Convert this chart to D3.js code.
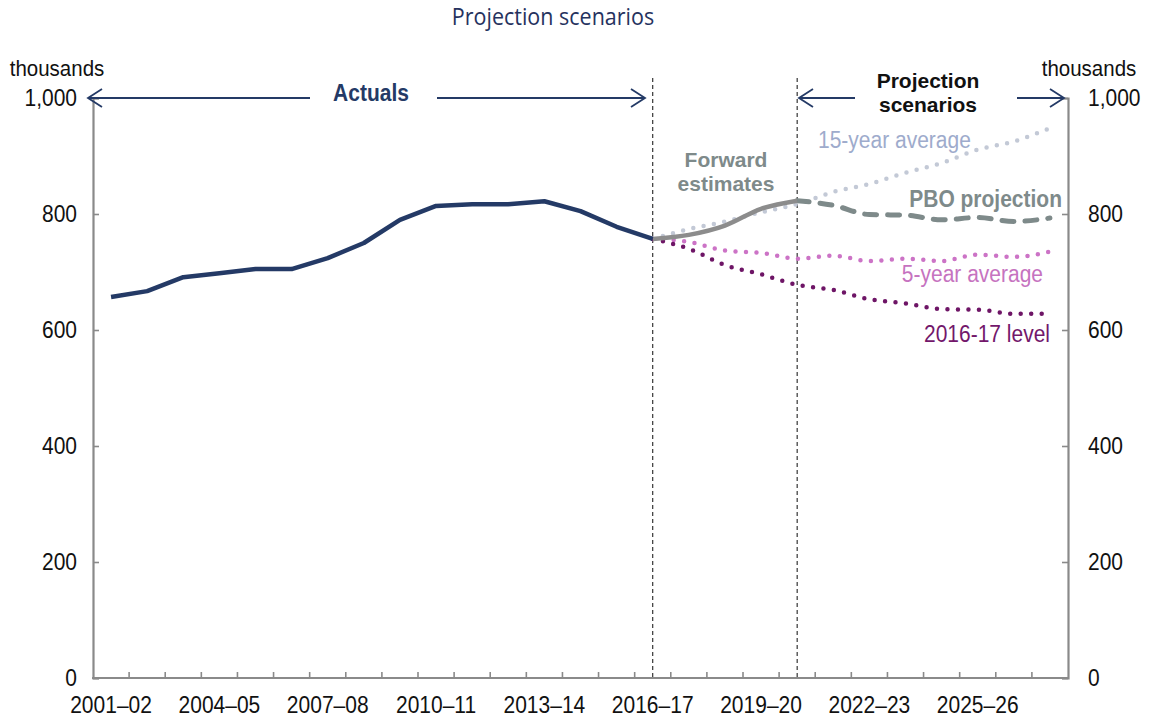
<!DOCTYPE html>
<html>
<head>
<meta charset="utf-8">
<script src="https://cdn.jsdelivr.net/npm/d3@7"></script>
<style>
  body { margin: 0; background: #fff; }
  svg { display: block; }
  text {
    font-family: "Liberation Sans", Arial, sans-serif;
    transform-box: fill-box;
    transform-origin: center;
    transform: scaleY(1.12);
  }
  text.flat { transform: none; }
</style>
</head>
<body>
<div id="chart"></div>
<script>
// financial years on the x axis
var years = ["2001–02", "2002–03", "2003–04", "2004–05", "2005–06", "2006–07", "2007–08",
  "2008–09", "2009–10", "2010–11", "2011–12", "2012–13", "2013–14", "2014–15", "2015–16",
  "2016–17", "2017–18", "2018–19", "2019–20", "2020–21", "2021–22", "2022–23", "2023–24",
  "2024–25", "2025–26", "2026–27", "2027–28"];
var yearLabels = ["2001–02", "2004–05", "2007–08", "2010–11", "2013–14", "2016–17", "2019–20", "2022–23", "2025–26"];
var yTicks = [0, 200, 400, 600, 800, 1000];

// thousands
var actuals = [657, 667, 691, 698, 705, 705, 724, 750, 790, 814, 817, 817, 822, 805, 778, 757];
var forwardEst = [757, 764, 780, 809, 823];           // 2016-17 .. 2020-21
var pboProjection = [823, 815, 799, 798, 790, 794, 787, 793]; // 2020-21 .. 2027-28
var avg15 = [757, 774, 787, 803, 817, 838, 852, 871, 888, 911, 925, 948]; // 2016-17 ..
var avg5 = [757, 752, 737, 733, 723, 728, 719, 723, 719, 730, 726, 735];
var level1617 = [757, 740, 712, 696, 678, 669, 653, 646, 636, 635, 628, 628];

var width = 1150, height = 720;

var svg = d3.select('#chart').append('svg')
    .attr('width', width)
    .attr('height', height);

var x = d3.scaleBand().domain(years).range([93, 1068]);
var y = d3.scaleLinear().domain([0, 1000]).range([678, 98]);

function cx(yr) { return x(yr) + x.bandwidth() / 2; }

function seriesFrom(startYear, vals) {
    var i0 = years.indexOf(startYear);
    return vals.map(function (v, i) { return { year: years[i0 + i], value: v }; });
}

var line = d3.line()
    .x(function (d) { return cx(d.year); })
    .y(function (d) { return y(d.value); })
    .curve(d3.curveMonotoneX);

// title
svg.append('text')
    .attr('x', 553).attr('y', 24)
    .attr('text-anchor', 'middle')
    .style('font-family', '"Open Sans", sans-serif')
    .style('font-size', '21.5px')
    .style('fill', '#25325e')
    .text('Projection scenarios');

// unit labels
svg.append('text').attr('x', 57).attr('y', 75).attr('text-anchor', 'middle')
    .style('font-size', '20.5px').style('fill', '#111').text('thousands');
svg.append('text').attr('x', 1089).attr('y', 75).attr('text-anchor', 'middle')
    .style('font-size', '20.5px').style('fill', '#111').text('thousands');

// axes
var axisColor = '#8a8a8a';
var gl = svg.append('g').attr('transform', 'translate(93,0)')
    .call(d3.axisLeft(y).tickValues(yTicks).tickSize(-6).tickPadding(16).tickFormat(d3.format(',')));
var gr = svg.append('g').attr('transform', 'translate(1068,0)')
    .call(d3.axisRight(y).tickValues(yTicks).tickSize(-6).tickPadding(20).tickFormat(d3.format(',')));
[gl, gr].forEach(function (g) {
    g.select('.domain').attr('stroke', axisColor).attr('stroke-width', 2.2);
    g.selectAll('.tick line').attr('stroke', axisColor).attr('stroke-width', 1.6);
    g.selectAll('.tick text').style('font-size', '21px').style('fill', '#111')
        .style('font-family', '"Liberation Sans", Arial, sans-serif');
});

// bottom axis: ticks between categories, labels every third year
var gb = svg.append('g');
gb.selectAll('.xtick')
    .data(years.slice(1))
    .enter().append('line')
    .attr('x1', function (d) { return x(d); })
    .attr('x2', function (d) { return x(d); })
    .attr('y1', y(0)).attr('y2', y(0) - 6)
    .attr('stroke', axisColor).attr('stroke-width', 1.6);
gb.append('line')
    .attr('x1', 92).attr('x2', 1069)
    .attr('y1', y(0)).attr('y2', y(0))
    .attr('stroke', axisColor).attr('stroke-width', 2.2);
gb.selectAll('.xlabel')
    .data(yearLabels)
    .enter().append('text')
    .attr('x', function (d) { return cx(d); })
    .attr('y', 712)
    .attr('text-anchor', 'middle')
    .style('font-size', '21px').style('fill', '#111')
    .text(function (d) { return d; });

// period dividers
['2016–17', '2020–21'].forEach(function (yr) {
    svg.append('line')
        .attr('x1', cx(yr)).attr('x2', cx(yr))
        .attr('y1', 78).attr('y2', y(0))
        .attr('stroke', '#222').attr('stroke-width', 1.1)
        .attr('stroke-dasharray', '4,3');
});

// period arrows
var navy = '#243a66';
function arrow(x1, x2, yy, color) {
    svg.append('line').attr('x1', x1).attr('x2', x2).attr('y1', yy).attr('y2', yy)
        .attr('stroke', color).attr('stroke-width', 1.8);
    var dir = x2 > x1 ? -1 : 1;
    svg.append('path')
        .attr('d', 'M' + (x2 + dir * 14) + ',' + (yy - 9) + 'L' + x2 + ',' + yy + 'L' + (x2 + dir * 14) + ',' + (yy + 9))
        .attr('fill', 'none').attr('stroke', color).attr('stroke-width', 1.8);
}
var ay = y(1000);
arrow(310, 88, ay, navy);
arrow(437, 645, ay, navy);
arrow(855, 799, ay, navy);
arrow(1017, 1064, ay, navy);

svg.append('text').attr('x', 371).attr('y', 100).attr('text-anchor', 'middle')
    .style('font-size', '21px').style('font-weight', 'bold').style('fill', navy).text('Actuals');
svg.append('text').attr('class', 'flat').attr('x', 928).attr('y', 88).attr('text-anchor', 'middle')
    .style('font-size', '21px').style('font-weight', 'bold').style('fill', '#111').text('Projection');
svg.append('text').attr('class', 'flat').attr('x', 928).attr('y', 112).attr('text-anchor', 'middle')
    .style('font-size', '21px').style('font-weight', 'bold').style('fill', '#111').text('scenarios');

// dotted projections first, solid lines on top
var dotted = [
    { vals: seriesFrom('2016–17', avg15), color: '#c3c9d6' },
    { vals: seriesFrom('2016–17', avg5), color: '#cc73c6' },
    { vals: seriesFrom('2016–17', level1617), color: '#6e1566' }
];
dotted.forEach(function (s) {
    svg.append('path')
        .datum(s.vals)
        .attr('d', line)
        .attr('fill', 'none')
        .attr('stroke', s.color)
        .attr('stroke-width', 4.5)
        .attr('stroke-linecap', 'round')
        .attr('stroke-dasharray', '0,10.5');
});

svg.append('path')
    .datum(seriesFrom('2020–21', pboProjection))
    .attr('d', line)
    .attr('fill', 'none')
    .attr('stroke', '#7e8a8a')
    .attr('stroke-width', 5)
    .attr('stroke-linecap', 'round')
    .attr('stroke-dasharray', '12,11');

svg.append('path')
    .datum(seriesFrom('2016–17', forwardEst))
    .attr('d', line)
    .attr('fill', 'none')
    .attr('stroke', '#8c8c8c')
    .attr('stroke-width', 4.5);

svg.append('path')
    .datum(seriesFrom('2001–02', actuals))
    .attr('d', d3.line().x(function (d) { return cx(d.year); }).y(function (d) { return y(d.value); }))
    .attr('fill', 'none')
    .attr('stroke', navy)
    .attr('stroke-width', 4.5)
    .attr('stroke-linejoin', 'round');

// series labels
function label(txt, xx, yy, anchor, color, bold, cls) {
    svg.append('text').attr('class', cls || null).attr('x', xx).attr('y', yy).attr('text-anchor', anchor)
        .style('font-size', '21px').style('font-weight', bold ? 'bold' : 'normal')
        .style('fill', color).text(txt);
}
label('Forward', 726, 167, 'middle', '#7e8a8a', true, 'flat');
label('estimates', 726, 191, 'middle', '#7e8a8a', true, 'flat');
label('15-year average', 818, 147, 'start', '#9eabcc', false);
label('PBO projection', 1062, 206, 'end', '#7e8a8a', true);
label('5-year average', 1043, 281, 'end', '#c673c0', false);
label('2016-17 level', 1050, 341, 'end', '#73176b', false);
</script>
</body>
</html>
